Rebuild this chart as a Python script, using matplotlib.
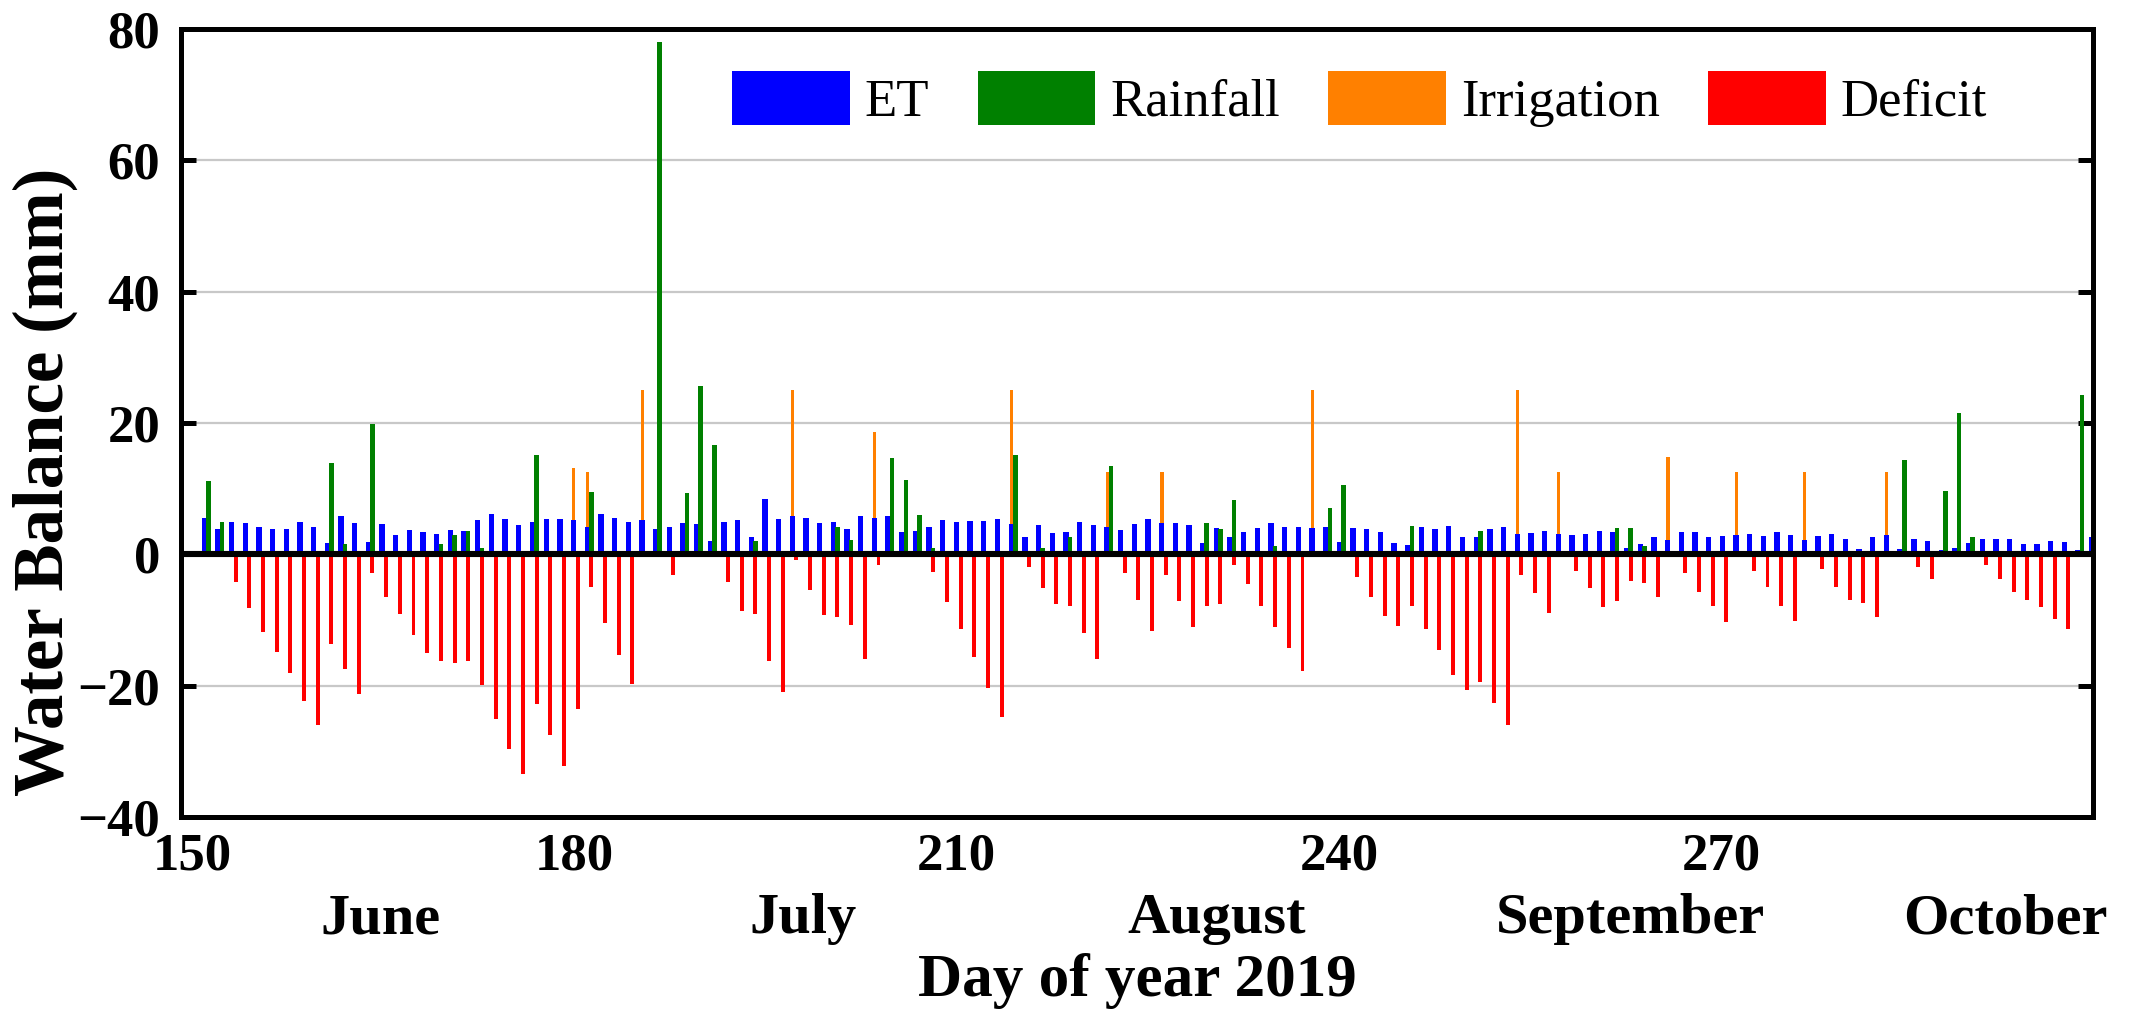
import numpy as np
import matplotlib
matplotlib.use("Agg")
import matplotlib.pyplot as plt
from matplotlib.patches import Patch
import matplotlib.transforms as mtransforms

# Daily water balance components, day of year 152 (1 June) to 290
first_day = 152
et_mm = [
    5.5, 3.8, 4.9, 4.7, 4.1, 3.8, 3.8, 5.0, 4.2, 1.7,   # 152-161
    5.8, 4.7, 1.9, 4.6, 3.0, 3.7, 3.4, 3.1, 3.7, 3.5,   # 162-171
    5.2, 6.1, 5.4, 4.5, 4.9, 5.4, 5.4, 5.3, 4.2, 6.2,   # 172-181
    5.6, 4.9, 5.2, 3.8, 4.1, 4.7, 4.6, 2.1, 4.9, 5.2,   # 182-191
    2.6, 8.4, 5.4, 5.8, 5.5, 4.7, 4.9, 3.9, 5.8, 5.5,   # 192-201
    5.8, 3.4, 3.5, 4.1, 5.2, 4.9, 5.1, 5.1, 5.4, 4.6,   # 202-211
    2.6, 4.5, 3.2, 3.4, 4.9, 4.5, 4.1, 3.7, 4.6, 5.4,   # 212-221
    4.7, 4.8, 4.5, 1.7, 4.0, 2.6, 3.4, 4.0, 4.7, 4.2,   # 222-231
    4.1, 4.0, 4.2, 1.9, 4.0, 3.8, 3.4, 1.8, 1.4, 4.1,   # 232-241
    3.8, 4.3, 2.7, 2.7, 3.9, 4.1, 3.1, 3.2, 3.5, 3.1,   # 242-251
    2.9, 3.1, 3.5, 3.4, 0.9, 1.6, 2.6, 2.2, 3.4, 3.4,   # 252-261
    2.7, 2.8, 2.9, 3.1, 2.8, 3.4, 2.9, 2.2, 2.8, 3.1,   # 262-271
    2.3, 0.8, 2.7, 2.9, 0.8, 2.3, 2.1, 0.7, 1.0, 1.8,   # 272-281
    2.3, 2.4, 2.4, 1.5, 1.5, 2.1, 1.9, 0.7, 2.6,        # 282-290
]
deficit_mm = [
    0.0, 0.0, -4.2, -8.1, -11.8, -14.8, -18.1, -22.4, -26.0, -13.6,      # 152-161
    -17.4, -21.2, -2.8, -6.5, -9.1, -12.3, -15.0, -16.2, -16.5, -16.2,   # 162-171
    -19.9, -25.1, -29.7, -33.5, -22.8, -27.5, -32.2, -23.5, -4.9, -10.5, # 172-181
    -15.4, -19.7, 0.0, 0.0, -3.2, 0.0, 0.0, 0.0, -4.2, -8.7,             # 182-191
    -9.1, -16.2, -21.0, -0.8, -5.5, -9.3, -9.5, -10.8, -15.9, -1.6,      # 192-201
    0.0, 0.0, 0.0, -2.7, -7.2, -11.4, -15.7, -20.3, -24.8, 0.0,          # 202-211
    -2.0, -5.1, -7.5, -7.8, -12.0, -15.9, 0.0, -2.9, -7.0, -11.7,        # 212-221
    -3.1, -7.1, -11.0, -7.8, -7.5, -1.7, -4.5, -7.9, -11.0, -14.3,       # 222-231
    -17.8, 0.0, 0.0, 0.0, -3.4, -6.5, -9.4, -10.9, -7.8, -11.3,          # 232-241
    -14.6, -18.3, -20.6, -19.4, -22.6, -26.0, -3.2, -5.9, -9.0, 0.0,     # 242-251
    -2.5, -5.1, -8.0, -7.1, -4.0, -4.3, -6.5, 0.0, -2.8, -5.7,           # 252-261
    -7.9, -10.3, 0.0, -2.5, -5.0, -7.8, -10.2, 0.0, -2.3, -5.0,          # 262-271
    -6.9, -7.4, -9.6, 0.0, 0.0, -1.9, -3.7, 0.0, 0.0, 0.0,               # 272-281
    -1.7, -3.8, -5.8, -6.9, -8.0, -9.8, -11.4, 0.0, 0.0,                 # 282-290
]
rain_days = [152, 153, 161, 162, 164, 169, 170, 171, 172, 176, 180, 185, 187,
             188, 189, 192, 198, 199, 202, 203, 204, 205, 211, 213, 215, 218,
             225, 226, 227, 230, 234, 235, 240, 245, 255, 256, 257, 276, 279,
             280, 281, 289]
rain_mm = [11.1, 5.0, 13.9, 1.5, 19.8, 1.5, 3.0, 3.5, 1.0, 15.1, 9.5, 78.0, 9.3,
           25.7, 16.6, 2.0, 4.2, 2.2, 14.6, 11.3, 6.0, 0.9, 15.1, 0.9, 2.7, 13.4,
           4.7, 3.8, 8.3, 1.3, 7.0, 10.6, 4.3, 3.5, 4.0, 4.0, 1.2, 14.4, 9.7,
           21.5, 2.7, 24.2]
irr_days = [179, 180, 184, 195, 201, 211, 218, 222, 233, 248, 251, 259, 264, 269, 275]
irr_mm = [13.2, 12.5, 25.0, 25.0, 18.6, 25.0, 12.5, 12.5, 25.0, 25.0, 12.5, 14.8,
          12.5, 12.5, 12.5]

# day-of-year scale printed under the plot
label_scale = (149.15, 299.15)
x_ticks = [150, 180, 210, 240, 270]
y_ticks = [-40, -20, 0, 20, 40, 60, 80]
month_names = ["June", "July", "August", "September", "October"]
month_pos = [164.6, 195.5, 225.7, 256.0, 283.4]

days = first_day + np.arange(len(et_mm))

C_ET, C_RAIN, C_IRR, C_DEF = "#0000ff", "#008000", "#ff8000", "#ff0000"
SERIF = ["Liberation Serif", "DejaVu Serif"]
plt.rcParams["font.family"] = SERIF

fig = plt.figure(figsize=(21.31, 10.15), dpi=100)
ax = fig.add_axes([181 / 2131, 1 - 817 / 1015, (2093 - 181) / 2131, (817 - 29) / 1015])

ax.bar(np.array(irr_days) - 0.28, irr_mm, width=0.24, color=C_IRR, zorder=2)
ax.bar(days - 0.30, et_mm, width=0.39, color=C_ET, zorder=3)
ax.bar(rain_days, rain_mm, width=0.33, color=C_RAIN, zorder=3)
ax.bar(days, deficit_mm, width=0.29, color=C_DEF, zorder=3)

ax.axhline(0, color="black", lw=4.4, zorder=6)

ax.set_xlim(150, 289.8)
ax.set_ylim(-40, 80)
ax.set_yticks(y_ticks)
ax.set_xticks([])
ax.yaxis.grid(True, color="#c8c8c8", lw=1.6)
ax.set_axisbelow(True)

for s in ax.spines.values():
    s.set_linewidth(3.6)
    s.set_zorder(7)

ax.tick_params(axis="y", direction="in", left=True, right=True, length=11, width=3.6,
               labelsize=38, pad=15)
for lab in ax.get_yticklabels():
    lab.set_fontweight("bold")

# day-of-year labels on their own bottom scale
axd = ax.twiny()
axd.set_xlim(*label_scale)
axd.xaxis.set_ticks_position("bottom")
axd.xaxis.set_label_position("bottom")
axd.set_xticks(x_ticks)
axd.tick_params(axis="x", length=0, labelsize=38, pad=11, top=False, labeltop=False,
                bottom=True, labelbottom=True)
for lab in axd.get_xticklabels():
    lab.set_fontweight("bold")
for s in axd.spines.values():
    s.set_visible(False)

# month names under the day-of-year labels
trans = mtransforms.blended_transform_factory(ax.transData, fig.transFigure)
for name, pos in zip(month_names, month_pos):
    ax.text(pos, 1 - 933 / 1015, name, transform=trans, ha="center", va="baseline",
            fontsize=42, fontweight="bold", clip_on=False)

fig.text(1137 / 2131, 1 - 996 / 1015, "Day of year 2019", ha="center", va="baseline",
         fontsize=44, fontweight="bold")
fig.text(45 / 2131, 1 - 482 / 1015, "Water Balance (mm)", rotation=90, ha="center",
         va="center", fontsize=51, fontweight="bold")

handles = [Patch(facecolor=c, edgecolor="none") for c in (C_ET, C_RAIN, C_IRR, C_DEF)]
ax.legend(handles, ["ET", "Rainfall", "Irrigation", "Deficit"], ncol=4,
          loc="upper left", bbox_to_anchor=(732 / 2131, 1 - 71 / 1015),
          bbox_transform=fig.transFigure, frameon=False, fontsize=38,
          handlelength=2.23, handleheight=1.2, handletextpad=0.28,
          columnspacing=0.92, borderpad=0, borderaxespad=0)

fig.savefig("out.png", dpi=100, facecolor="white")
